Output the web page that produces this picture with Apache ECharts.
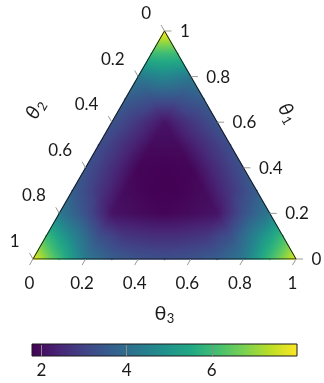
<!DOCTYPE html>
<html>
<head>
<meta charset="utf-8">
<script src="https://cdn.jsdelivr.net/npm/echarts@6/dist/echarts.min.js"></script>
<style>
  html, body { margin: 0; padding: 0; background: #fff; }
  #chart { width: 324px; height: 383px; }
</style>
</head>
<body>
<div id="chart"></div>
<script>
// Density on the simplex, sampled on a 0.1 barycentric mesh.
// Row r: theta1 = 1 - r/10; entry j: theta3 = j/10 (theta2 = the remainder).
const densityRows = [
  [8.0],
  [6.0, 6.0],
  [4.3, 4.6, 4.3],
  [3.6, 3.3, 3.3, 3.6],
  [3.35, 2.75, 2.1, 2.75, 3.35],
  [3.25, 2.6, 1.95, 1.95, 2.6, 3.25],
  [3.35, 2.6, 1.85, 1.8, 1.85, 2.6, 3.35],
  [3.6, 2.75, 1.95, 1.8, 1.8, 1.95, 2.75, 3.6],
  [4.3, 3.3, 2.1, 1.95, 1.85, 1.95, 2.1, 3.3, 4.3],
  [6.0, 4.6, 3.3, 2.75, 2.6, 2.6, 2.75, 3.3, 4.6, 6.0],
  [7.8, 6.0, 4.3, 3.6, 3.35, 3.25, 3.35, 3.6, 4.3, 6.0, 7.7]
];
const meshStep = 0.1;

const tickValues = [0, 0.2, 0.4, 0.6, 0.8, 1];
const tickLabels = ['0', '0.2', '0.4', '0.6', '0.8', '1'];
const axisSymbol = 'θ';
const axisSubscripts = ['1', '2', '3'];

const colorRange = [1.78, 8.0];
const colorbarTicks = [2, 4, 6];

// viridis
const palette = ['#440154', '#482475', '#414487', '#355f8d', '#2a788e', '#21918c',
                 '#22a884', '#44bf70', '#7ad151', '#bddf26', '#fde725'];

const FONT = 'Lato, "DejaVu Sans", sans-serif';
const H = Math.sqrt(3) / 2;

const rgbStops = palette.map(h => [parseInt(h.slice(1, 3), 16), parseInt(h.slice(3, 5), 16), parseInt(h.slice(5, 7), 16)]);
function colorOf(v) {
  let t = (v - colorRange[0]) / (colorRange[1] - colorRange[0]);
  t = Math.max(0, Math.min(1, t)) * (rgbStops.length - 1);
  const i = Math.min(Math.floor(t), rgbStops.length - 2);
  const f = t - i;
  const a = rgbStops[i], b = rgbStops[i + 1];
  return 'rgb(' + [0, 1, 2].map(k => Math.round(a[k] + (b[k] - a[k]) * f)).join(',') + ')';
}

// barycentric -> plane
function toXY(t1, t3) { return [t3 + t1 / 2, t1 * H]; }

// mesh nodes and triangles
const nodes = densityRows.map((row, r) => row.map((v, j) => {
  const t1 = 1 - r * meshStep, t3 = j * meshStep;
  const xy = toXY(t1, t3);
  return { x: xy[0], y: xy[1], v: v };
}));
const tris = [];
for (let r = 0; r < densityRows.length - 1; r++) {
  for (let j = 0; j <= r; j++) {
    tris.push([nodes[r][j], nodes[r + 1][j], nodes[r + 1][j + 1]]);
    if (j < r) tris.push([nodes[r][j], nodes[r + 1][j + 1], nodes[r][j + 1]]);
  }
}

// Each mesh triangle is linear in value, so a linear gradient along the
// value gradient shades it exactly (Gouraud-style through the colour map).
// Triangles are grown slightly about their centroid so neighbours overlap
// and no anti-aliasing seams show.
const GROW = 0.7;
function renderField(params, api) {
  const t = tris[params.dataIndex];
  const p = t.map(n => api.coord([n.x, n.y]));
  const v = t.map(n => n.v);
  const dx1 = p[1][0] - p[0][0], dy1 = p[1][1] - p[0][1];
  const dx2 = p[2][0] - p[0][0], dy2 = p[2][1] - p[0][1];
  const dv1 = v[1] - v[0], dv2 = v[2] - v[0];
  const det = dx1 * dy2 - dx2 * dy1;
  const ga = (dv1 * dy2 - dv2 * dy1) / det;
  const gb = (dx1 * dv2 - dx2 * dv1) / det;
  const g2 = ga * ga + gb * gb;
  let fill;
  if (g2 < 1e-12) {
    fill = colorOf(v[0]);
  } else {
    const vmin = Math.min.apply(null, v), vmax = Math.max.apply(null, v);
    const s0 = (vmin - v[0]) / g2, s1 = (vmax - v[0]) / g2;
    const K = 12;
    const stops = [];
    for (let k = 0; k <= K; k++) {
      stops.push({ offset: k / K, color: colorOf(vmin + (vmax - vmin) * k / K) });
    }
    fill = new echarts.graphic.LinearGradient(
      p[0][0] + ga * s0, p[0][1] + gb * s0,
      p[0][0] + ga * s1, p[0][1] + gb * s1, stops, true);
  }
  const cx = (p[0][0] + p[1][0] + p[2][0]) / 3, cy = (p[0][1] + p[1][1] + p[2][1]) / 3;
  const side = Math.hypot(dx1, dy1);
  const k = 1 + GROW / (side / (2 * Math.sqrt(3)));
  const grown = p.map(q => [cx + (q[0] - cx) * k, cy + (q[1] - cy) * k]);
  return {
    type: 'polygon',
    shape: { points: grown },
    style: { fill: fill },
    silent: true
  };
}

// per-axis tick geometry: position on the edge, tick direction, label placement
const axisDefs = [
  { // theta1, right edge
    pos: v => toXY(v, 1 - v),
    dir: [1, 0],
    label: { dx: 8.5, dy: 0.5, align: 'left' }
  },
  { // theta2, left edge
    pos: v => toXY(1 - v, 0),
    dir: [-0.5, -H],
    label: { dx: -10, dy: -11.5, align: 'right' }
  },
  { // theta3, bottom edge
    pos: v => toXY(0, v),
    dir: [-0.5, H],
    label: { dx: 0, dy: 18, align: 'center' }
  }
];
const TICK_LEN = 7;

function tickSeries(k) {
  const def = axisDefs[k];
  return {
    type: 'custom',
    coordinateSystem: 'cartesian2d',
    xAxisIndex: 0, yAxisIndex: 0,
    silent: true, z: 5,
    data: tickValues.map(v => def.pos(v)),
    renderItem: function (params, api) {
      const p = api.coord([api.value(0), api.value(1)]);
      const e = [p[0] + def.dir[0] * TICK_LEN, p[1] + def.dir[1] * TICK_LEN];
      return {
        type: 'group',
        children: [
          { type: 'line', shape: { x1: p[0], y1: p[1], x2: e[0], y2: e[1] },
            style: { stroke: '#999', lineWidth: 1 } },
          { type: 'text', x: e[0] + def.label.dx, y: e[1] + def.label.dy,
            style: { text: tickLabels[params.dataIndex], fill: '#1a1a1a', fontSize: 17,
                     fontFamily: FONT, align: def.label.align, verticalAlign: 'middle' } }
        ]
      };
    }
  };
}

// axis names sit outside each edge midpoint
const nameDefs = [
  { at: toXY(0.5, 0.5), off: [57, -33], rot: -Math.PI / 3, style: 'italic' },
  { at: toXY(0.5, 0), off: [-64, -35], rot: Math.PI / 3, style: 'italic' },
  { at: toXY(0, 0.5), off: [-1, 55], rot: 0, style: 'normal' }
];

const chart = echarts.init(document.getElementById('chart'), null, { renderer: 'canvas' });
chart.setOption({
  animation: false,
  backgroundColor: '#fff',
  grid: [
    { left: 33, top: 31, width: 263, height: 228 },
    { left: 32, top: 344, width: 265, height: 12 }
  ],
  xAxis: [
    { gridIndex: 0, type: 'value', min: 0, max: 1, show: false },
    { gridIndex: 1, type: 'value', min: colorRange[0], max: colorRange[1],
      axisLine: { show: false },
      splitLine: { show: false },
      axisTick: { show: true, inside: true, length: 11, customValues: colorbarTicks,
                  lineStyle: { color: '#8a8a8a', width: 1 } },
      axisLabel: { customValues: colorbarTicks, margin: 6, fontSize: 17,
                   fontFamily: FONT, color: '#1a1a1a' },
      z: 10 }
  ],
  yAxis: [
    { gridIndex: 0, type: 'value', min: 0, max: H, show: false },
    { gridIndex: 1, type: 'value', min: 0, max: 1, show: false }
  ],
  series: [
    {
      type: 'custom',
      coordinateSystem: 'cartesian2d',
      xAxisIndex: 0, yAxisIndex: 0,
      silent: true, z: 1,
      data: tris.map(t => [(t[0].x + t[1].x + t[2].x) / 3, (t[0].y + t[1].y + t[2].y) / 3]),
      renderItem: renderField
    },
    {
      type: 'line',
      xAxisIndex: 0, yAxisIndex: 0,
      silent: true, z: 4,
      symbol: 'none',
      data: [toXY(0, 0), toXY(0, 1), toXY(1, 0), toXY(0, 0)],
      lineStyle: { color: '#1a1a1a', width: 1 }
    },
    tickSeries(0), tickSeries(1), tickSeries(2),
    {
      type: 'custom',
      coordinateSystem: 'cartesian2d',
      xAxisIndex: 0, yAxisIndex: 0,
      silent: true, z: 5,
      data: nameDefs.map(d => d.at),
      renderItem: function (params, api) {
        const d = nameDefs[params.dataIndex];
        const p = api.coord([api.value(0), api.value(1)]);
        return {
          type: 'group', x: p[0] + d.off[0], y: p[1] + d.off[1], rotation: d.rot,
          children: [
            { type: 'text', x: -3, y: 0,
              style: { text: axisSymbol, fill: '#1a1a1a', fontSize: 20, fontStyle: d.style,
                       fontFamily: FONT, align: 'center', verticalAlign: 'middle' } },
            { type: 'text', x: 7, y: 5,
              style: { text: axisSubscripts[params.dataIndex], fill: '#1a1a1a', fontSize: 13,
                       fontFamily: FONT, align: 'center', verticalAlign: 'middle' } }
          ]
        };
      }
    },
    {
      type: 'custom',
      coordinateSystem: 'cartesian2d',
      xAxisIndex: 1, yAxisIndex: 1,
      silent: true, z: 2,
      data: [[colorRange[0], 0, colorRange[1], 1]],
      renderItem: function (params, api) {
        const a = api.coord([api.value(0), api.value(1)]);
        const b = api.coord([api.value(2), api.value(3)]);
        return {
          type: 'rect',
          shape: { x: a[0], y: b[1], width: b[0] - a[0], height: a[1] - b[1] },
          style: {
            fill: new echarts.graphic.LinearGradient(0, 0, 1, 0,
              palette.map((c, i) => ({ offset: i / (palette.length - 1), color: c }))),
            stroke: '#1a1a1a', lineWidth: 1
          }
        };
      }
    }
  ]
});
</script>
</body>
</html>
